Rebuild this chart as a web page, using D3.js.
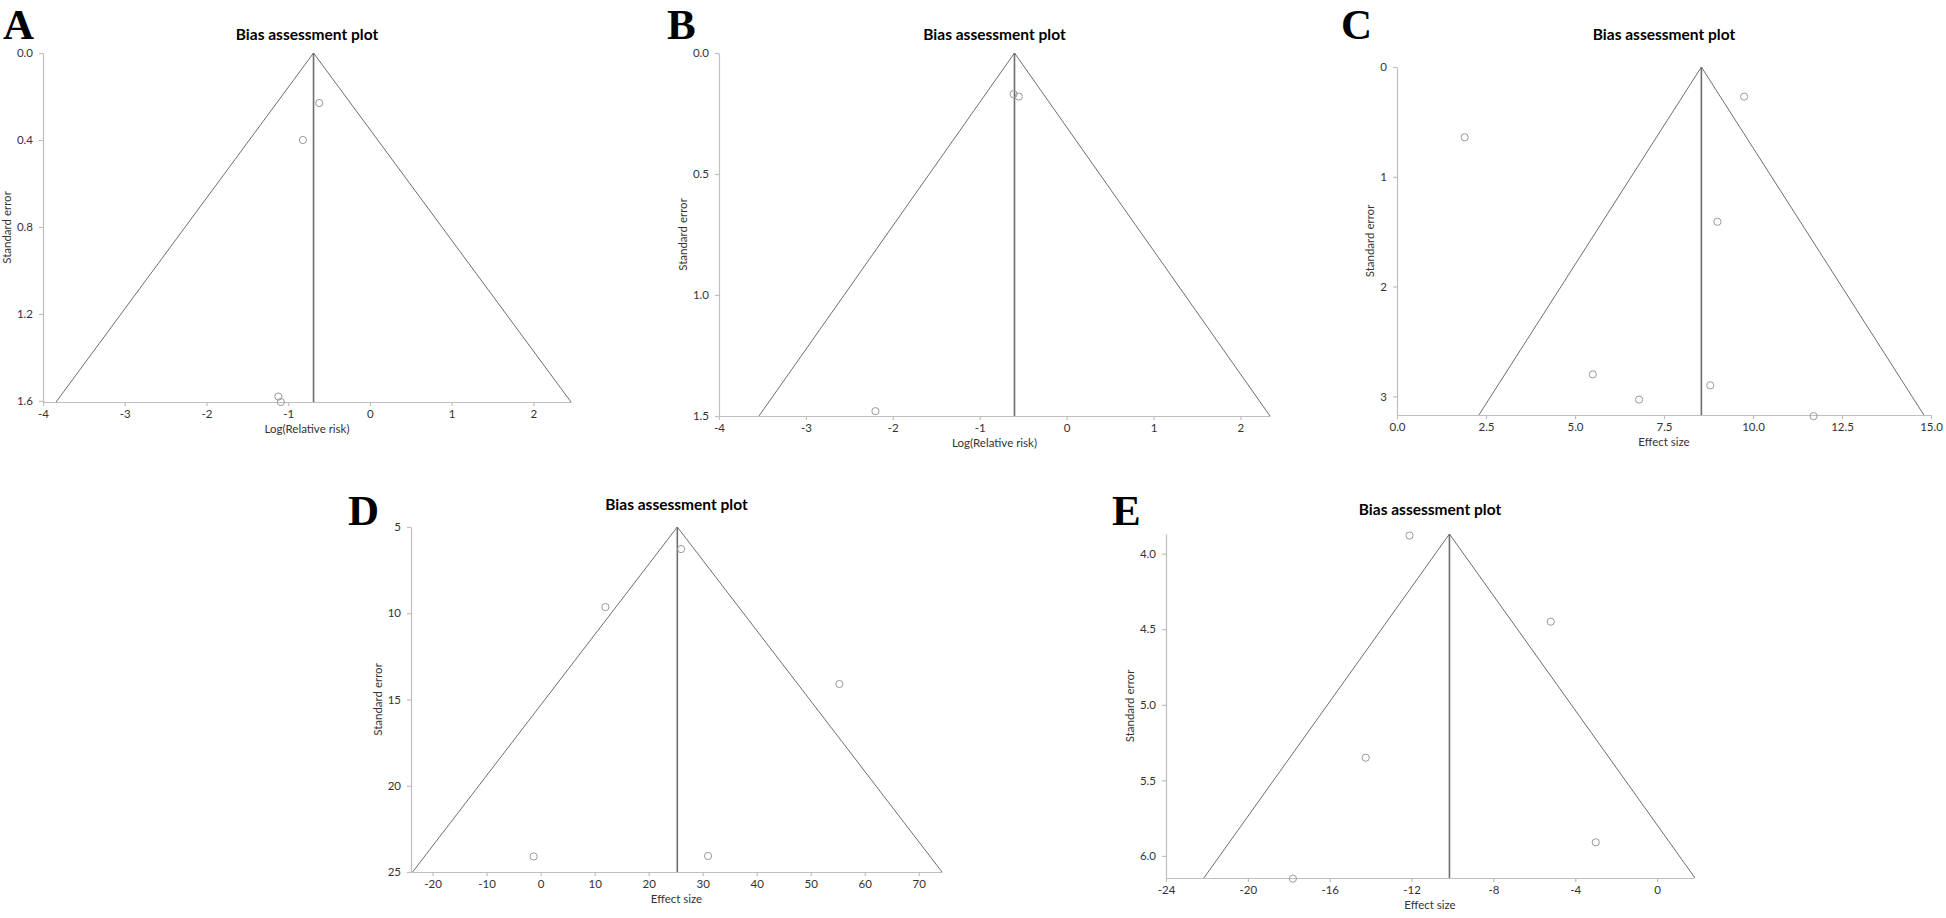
<html>
<head>
<meta http-equiv="Content-Type" content="text/html; charset=UTF-8" />
<script src="https://cdn.jsdelivr.net/npm/d3@7"></script>
<style type="text/css">
    body {
        margin: 0;
        padding: 0;
        background: #fff;
    }
    svg {
        display: block;
    }
    .axis path, .axis line {
        stroke: #bfbfbf;
        stroke-width: 1.2;
    }
    .axis text {
        font-family: Lato, 'Open Sans', sans-serif;
        font-size: 11.5px;
        fill: #333;
    }
    .ptitle {
        font-family: Lato, sans-serif;
        font-weight: bold;
        font-size: 15.5px;
        fill: #000;
    }
    .atitle {
        font-family: Lato, sans-serif;
        font-size: 11.5px;
        fill: #333;
    }
    .letter {
        font-family: 'Liberation Serif', 'DejaVu Serif', serif;
        font-weight: bold;
        font-size: 43px;
        fill: #000;
    }
</style>
</head>
<body>
<div id="chart"></div>

<script>

// ---- data ----
var panelLetters = ["A", "B", "C", "D", "E"];
var xTitles = ["Log(Relative risk)", "Log(Relative risk)", "Effect size", "Effect size", "Effect size"];
var yTitle = "Standard error";
var plotTitle = "Bias assessment plot";

// pooled estimate (vertical line) and funnel corners
var pooled      = [-0.69, -0.60, 8.55, 25.3, -10.15];
var apexSE      = [0, 0, 0, 5, 3.87];
var baseSE      = [1.605, 1.5, 3.17, 25, 6.146];
var funnelLeft  = [-3.84, -3.54, 2.30, -23.7, -22.15];
var funnelRight = [2.46, 2.34, 14.8, 74.3, 1.85];

var xDomains = [[-4, 2.46], [-4, 2.34], [0, 15], [-24, 74.3], [-24, 1.8]];
var yDomains = [[0, 1.605], [0, 1.5], [0, 3.17], [5, 25], [3.87, 6.146]];

var xTicks = [
    [-4, -3, -2, -1, 0, 1, 2],
    [-4, -3, -2, -1, 0, 1, 2],
    [0, 2.5, 5, 7.5, 10, 12.5, 15],
    [-20, -10, 0, 10, 20, 30, 40, 50, 60, 70],
    [-24, -20, -16, -12, -8, -4, 0]
];
var yTicks = [
    [0, 0.4, 0.8, 1.2, 1.6],
    [0, 0.5, 1.0, 1.5],
    [0, 1, 2, 3],
    [5, 10, 15, 20, 25],
    [4.0, 4.5, 5.0, 5.5, 6.0]
];
var xFormats = ["d", "d", ".1f", "d", "d"];
var yFormats = [".1f", ".1f", "d", "d", ".1f"];

// individual studies: effect and standard error
var effA = [-0.62, -0.82, -1.12, -1.09];
var seA  = [0.23, 0.40, 1.58, 1.605];
var effB = [-0.61, -0.55, -2.20];
var seB  = [0.17, 0.18, 1.48];
var effC = [9.75, 1.90, 9.00, 5.50, 6.80, 8.80, 11.70];
var seC  = [0.27, 0.64, 1.41, 2.80, 3.03, 2.90, 3.18];
var effD = [12.0, 26.0, -1.3, 31.0, 55.3];
var seD  = [9.64, 6.28, 24.1, 24.07, 14.1];
var effE = [-12.1, -5.2, -14.24, -3.0, -17.8];
var seE  = [3.88, 4.45, 5.35, 5.91, 6.15];

var studyEff = [effA, effB, effC, effD, effE];
var studySE  = [seA, seB, seC, seD, seE];

// ---- layout (pixels) ----
var boxes = [
    {x0: 43,   x1: 571,  y0: 53,  y1: 402, tx: 40,  lx: 3,    ly: 39},
    {x0: 719,  x1: 1270, y0: 53,  y1: 416, tx: 40,  lx: 667,  ly: 39},
    {x0: 1397, x1: 1931, y0: 67,  y1: 415, tx: 40,  lx: 1341, ly: 39},
    {x0: 411,  x1: 942,  y0: 527, y1: 872, tx: 510, lx: 348,  ly: 525},
    {x0: 1166, x1: 1694, y0: 534, y1: 878, tx: 515, lx: 1112, ly: 525}
];

var svg = d3.select("#chart")
            .append("svg")
            .attr("width", 1946)
            .attr("height", 918);

svg.append("rect")
    .attr("width", 1946)
    .attr("height", 918)
    .attr("fill", "#fff");

function fmt(spec) {
    var f = d3.format(spec);
    return function(d) { return f(d).replace("\u2212", "-"); };
}

function drawPanel(i) {
    var b = boxes[i];

    var x = d3.scaleLinear().domain(xDomains[i]).range([b.x0, b.x1]);
    var y = d3.scaleLinear().domain(yDomains[i]).range([b.y0, b.y1]);

    var g = svg.append("g");

    // axes
    g.append("g")
        .attr("class", "axis")
        .attr("transform", "translate(0," + b.y1 + ")")
        .call(d3.axisBottom(x)
                .tickValues(xTicks[i])
                .tickFormat(fmt(xFormats[i]))
                .tickSizeInner(4)
                .tickSizeOuter(0)
                .tickPadding(4));

    var yAxis = g.append("g")
                .attr("class", "axis")
                .attr("transform", "translate(" + b.x0 + ",0)")
                .call(d3.axisLeft(y)
                        .tickValues(yTicks[i])
                        .tickFormat(fmt(yFormats[i]))
                        .tickSizeInner(4)
                        .tickSizeOuter(0)
                        .tickPadding(6));

    // funnel
    var line = d3.line()
                .x(function(d) { return x(d[0]); })
                .y(function(d) { return y(d[1]); });

    g.append("path")
        .attr("d", line([[funnelLeft[i], baseSE[i]], [pooled[i], apexSE[i]], [funnelRight[i], baseSE[i]]]))
        .attr("fill", "none")
        .attr("stroke", "#6e6e6e")
        .attr("stroke-width", 1);

    g.append("path")
        .attr("d", line([[pooled[i], apexSE[i]], [pooled[i], baseSE[i]]]))
        .attr("fill", "none")
        .attr("stroke", "#6e6e6e")
        .attr("stroke-width", 1.6);

    // studies
    var pts = studyEff[i].map(function(e, k) { return [e, studySE[i][k]]; });

    g.selectAll("circle")
        .data(pts)
        .enter()
        .append("circle")
        .attr("cx", function(d) { return x(d[0]); })
        .attr("cy", function(d) { return y(d[1]); })
        .attr("r", 3.6)
        .attr("fill", "none")
        .attr("stroke", "#9a9a9a")
        .attr("stroke-width", 1);

    // titles
    g.append("text")
        .attr("class", "ptitle")
        .attr("x", (b.x0 + b.x1) / 2)
        .attr("y", b.tx)
        .attr("text-anchor", "middle")
        .text(plotTitle);

    g.append("text")
        .attr("class", "atitle")
        .attr("x", (b.x0 + b.x1) / 2)
        .attr("y", b.y1 + 31)
        .attr("text-anchor", "middle")
        .text(xTitles[i]);

    // y title sits just left of the widest tick label
    var yb = yAxis.node().getBBox();
    var ytx = b.x0 + yb.x - 6;
    g.append("text")
        .attr("class", "atitle")
        .attr("transform", "translate(" + ytx + "," + ((b.y0 + b.y1) / 2) + ") rotate(-90)")
        .attr("text-anchor", "middle")
        .text(yTitle);

    svg.append("text")
        .attr("class", "letter")
        .attr("x", b.lx)
        .attr("y", b.ly)
        .text(panelLetters[i]);
}

for (var i = 0; i < boxes.length; i++) {
    drawPanel(i);
}

</script>
</body>
</html>
